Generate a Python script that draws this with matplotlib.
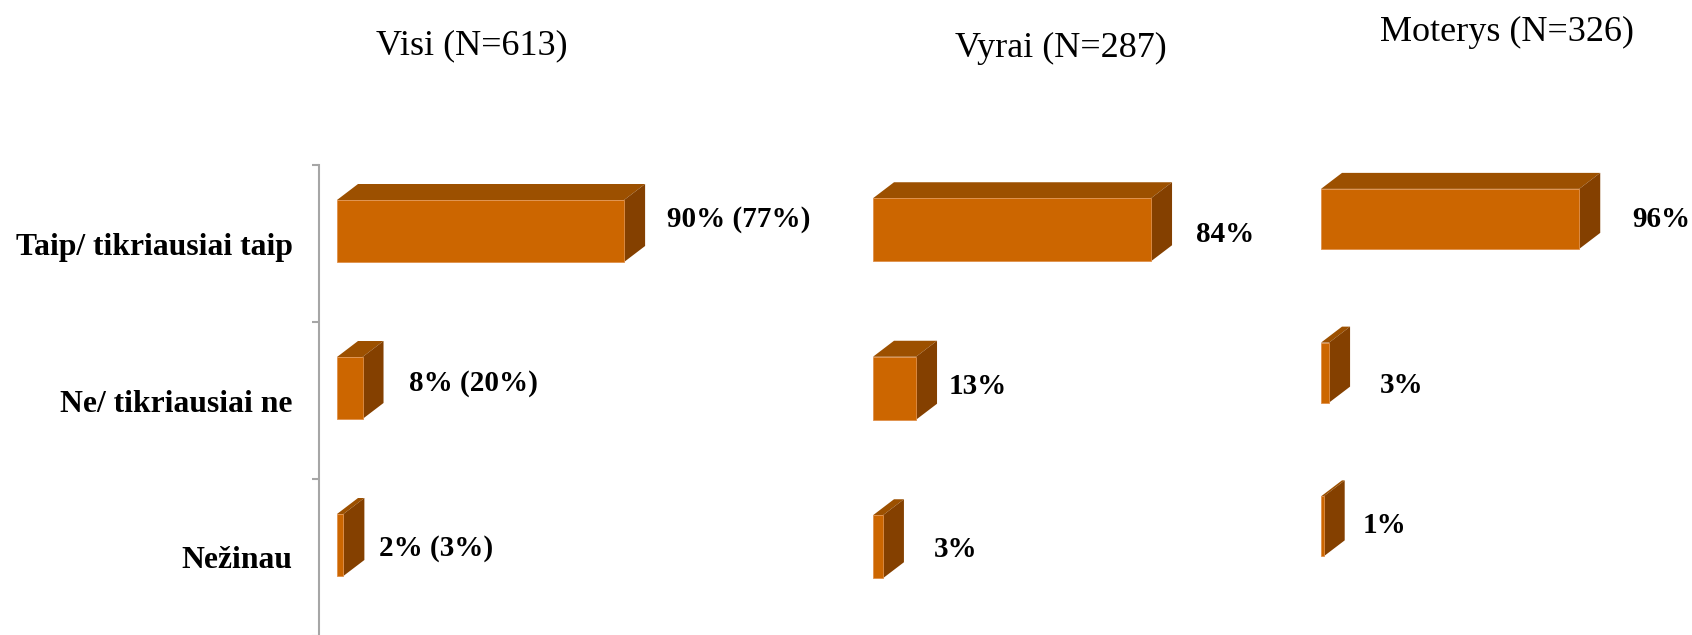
import matplotlib.pyplot as plt
from matplotlib.patches import Polygon

plt.rcParams['font.family'] = ['Liberation Serif', 'DejaVu Serif']

categories = ['Taip/ tikriausiai taip', 'Ne/ tikriausiai ne', 'Nežinau']
groups = ['Visi (N=613)', 'Vyrai (N=287)', 'Moterys (N=326)']
visi = [90, 8, 2]
visi_earlier = [77, 20, 3]   # values in brackets
vyrai = [84, 13, 3]
moterys = [96, 3, 1]

front_col = '#CC6600'
top_col = '#9C5000'
side_col = '#844000'

W, H = 1692, 635
DX, DY = 21, 16   # 3d depth in pixels

# per panel layout, all in pixels of the output image
panels = [
    dict(vals=visi, x0=337, left=319, ppct=3.19, top=165, step=157, off=-12.5, h=62,
         title_xy=(472, 46),
         nudges=[(22, -14), (25, -7), (15, 1)]),
    dict(vals=vyrai, x0=873, left=873, ppct=3.31, top=165, step=158.5, off=-14.5, h=63,
         title_xy=(1061, 48),
         nudges=[(24, 2.5), (12, -4.5), (30, 0)]),
    dict(vals=moterys, x0=1321, left=1321, ppct=2.69, top=142, step=153.75, off=0, h=60,
         title_xy=(1507, 32),
         nudges=[(32, -2), (30, 10), (18, -3.5)]),
]

fig = plt.figure(figsize=(W / 100, H / 100), dpi=100)

for i, p in enumerate(panels):
    xmin = -(p['x0'] - p['left']) / p['ppct']
    width_px = (100 - xmin) * p['ppct']
    height_px = 3 * p['step']
    ax = fig.add_axes([p['left'] / W, 1 - (p['top'] + height_px) / H,
                       width_px / W, height_px / H])
    ax.set_xlim(xmin, 100)
    ax.set_ylim(2.5, -0.5)
    ax.patch.set_visible(False)
    for s in ['top', 'right', 'bottom']:
        ax.spines[s].set_visible(False)
    ax.set_xticks([])

    ux = 1 / p['ppct']
    uy = 1 / p['step']
    dxu, dyu = DX * ux, DY * uy
    h = p['h'] * uy

    for k, v in enumerate(p['vals']):
        c = k + p['off'] * uy
        y_top, y_bot = c - h / 2, c + h / 2
        ax.add_patch(Polygon([(0, y_top), (v, y_top), (v + dxu, y_top - dyu), (dxu, y_top - dyu)],
                             closed=True, fc=top_col, ec='none', clip_on=False))
        ax.add_patch(Polygon([(v, y_top), (v, y_bot), (v + dxu, y_bot - dyu), (v + dxu, y_top - dyu)],
                             closed=True, fc=side_col, ec='none', clip_on=False))
        ax.add_patch(Polygon([(0, y_top), (v, y_top), (v, y_bot), (0, y_bot)],
                             closed=True, fc=front_col, ec='#E0904A', lw=0.6, clip_on=False))

        if i == 0:
            label = f'{v}% ({visi_earlier[k]}%)'
        else:
            label = f'{v}%'
        gx, gy = p['nudges'][k]
        ax.annotate(label, xy=(v + dxu, c), xytext=(gx, -(gy + 10)),
                    textcoords='offset pixels', ha='left', va='baseline',
                    fontsize=21, fontweight='bold', annotation_clip=False)

    if i == 0:
        ax.spines['left'].set_color('#A6A6A6')
        ax.spines['left'].set_linewidth(1.5)
        ax.set_yticks([-0.5, 0.5, 1.5, 2.5])
        ax.set_yticklabels([])
        ax.tick_params(axis='y', which='major', length=5, width=1.5, color='#A6A6A6', direction='out')
        ax.set_yticks([0, 1, 2], minor=True)
        ax.set_yticklabels(categories, minor=True, fontsize=22.8, fontweight='bold')
        ax.tick_params(axis='y', which='minor', length=0, pad=19)
    else:
        ax.spines['left'].set_visible(False)
        ax.set_yticks([])

    tx, ty = p['title_xy']
    fig.text(tx / W, 1 - ty / H, groups[i], ha='center', va='center', fontsize=26)

fig.savefig('out.png', dpi=100)
